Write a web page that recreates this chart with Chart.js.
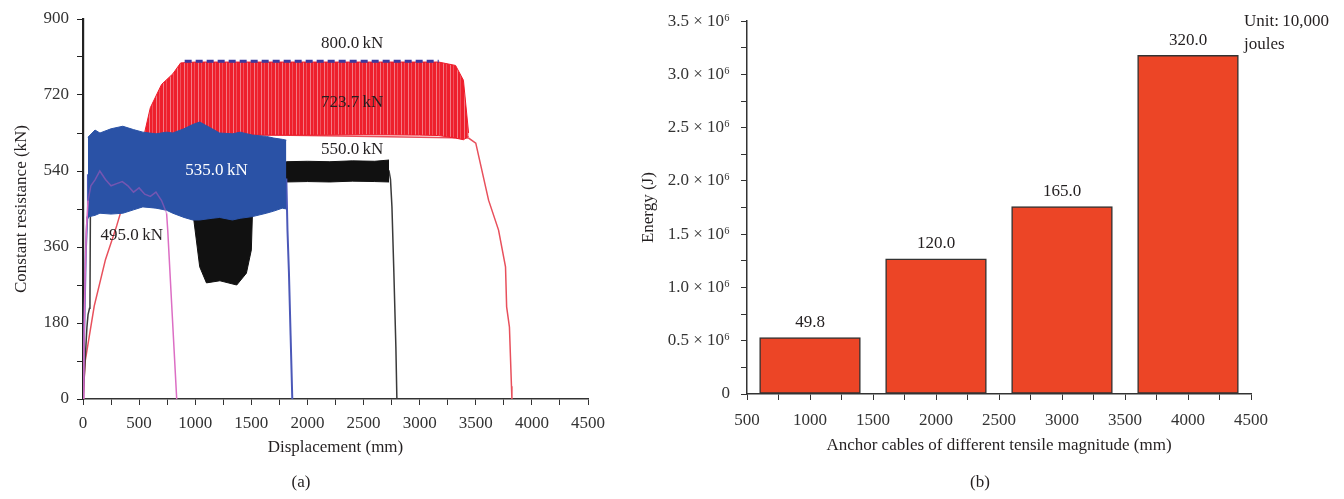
<!DOCTYPE html>
<html>
<head>
<meta charset="utf-8">
<script src="https://cdn.jsdelivr.net/npm/chart.js@4.4.0/dist/chart.umd.min.js"></script>
<style>
  body { margin: 0; background: #fff; }
  #wrap { position: relative; width: 1344px; height: 499px; }
  .box { position: absolute; top: 0; height: 499px; }
  #boxA { left: 0; width: 620px; }
  #boxB { left: 620px; width: 724px; }
</style>
</head>
<body>
<div id="wrap">
  <div class="box" id="boxA"><canvas id="chartA"></canvas></div>
  <div class="box" id="boxB"><canvas id="chartB"></canvas></div>
</div>
<script>
// ---- (a) resistance vs displacement ----
// red cable (800 kN): rise + fall trace, and the oscillating band between
let redLineX = [0, 20, 100, 200, 300, 400, 550, 3436, 3500, 3614, 3703, 3765, 3775, 3800, 3818, 3822];
let redLineY = [0, 90, 220, 330, 410, 500, 630, 618, 606, 471, 400, 313, 218, 170, 30, 0];
let redBandX = [550, 600, 700, 800, 870, 1000, 1500, 2000, 2500, 3000, 3170, 3320, 3390, 3436];
let redBandTop = [632, 690, 745, 770, 796, 798, 798, 798, 798, 798, 798, 790, 755, 630];
let redBandLow = [630, 626, 625, 625, 625, 625, 625, 625, 626, 625, 624, 618, 614, 622];

// black cable (550 kN)
let blackLineX = [0, 35, 45, 58, 62, 66, 1812, 2727, 2740, 2753, 2770, 2788, 2797];
let blackLineY = [0, 170, 200, 215, 225, 450, 540, 540, 520, 455, 300, 123, 0];
let blackBandX = [980, 1040, 1100, 1220, 1370, 1456, 1500, 1510, 1812, 2000, 2200, 2400, 2600, 2727];
let blackBandTop = [445, 450, 455, 455, 450, 450, 445, 520, 562, 563, 562, 564, 563, 566];
let blackBandLow = [440, 313, 275, 280, 270, 298, 353, 440, 514, 515, 514, 516, 515, 514];

// blue cable (535 kN)
let blueLineX = [0, 10, 25, 38, 44, 1812, 1822, 1835, 1850, 1865];
let blueLineY = [0, 150, 350, 430, 530, 520, 400, 300, 150, 0];
let blueBandX = [44, 107, 151, 250, 355, 450, 533, 650, 745, 800, 900, 977, 1040, 1150, 1217, 1332, 1400, 1510, 1634, 1700, 1776, 1812];
let blueBandTop = [620, 637, 630, 640, 646, 638, 632, 628, 632, 630, 640, 650, 656, 640, 630, 628, 632, 625, 622, 618, 615, 613];
let blueBandLow = [431, 435, 440, 438, 440, 448, 455, 452, 447, 440, 430, 424, 424, 428, 430, 424, 428, 432, 440, 445, 452, 450];

// pink cable (495 kN)
let pinkX = [0, 8, 18, 30, 45, 70, 107, 150, 200, 250, 300, 350, 400, 450, 500, 550, 600, 650, 700, 745, 755, 795, 835];
let pinkY = [0, 120, 280, 400, 470, 505, 519, 540, 520, 505, 510, 515, 505, 490, 500, 485, 480, 490, 470, 440, 400, 200, 0];

// design load line
let dashX = [906, 3170];
let dashY = [800, 800];

let noteText = ['800.0\u2009kN', '723.7\u2009kN', '550.0\u2009kN', '535.0\u2009kN', '495.0\u2009kN'];
let noteX = [2398, 2398, 2398, 1190, 435];
let noteY = [843, 701, 590, 542, 386];

// ---- (b) energy per cable ----
let barX = [1000, 2000, 3000, 4000];
let barEnergy = [530000, 1270000, 1760000, 3180000];
let barText = ['49.8', '120.0', '165.0', '320.0'];

const serif = '"Liberation Serif", "DejaVu Serif", serif';
const ink = '#231f20';
const pts = (xs, ys) => xs.map((x, i) => ({x: x, y: ys[i]}));

// streaky fill for the red oscillation band
function stripes(){
    let c = document.createElement('canvas');
    c.width = 7; c.height = 4;
    let g = c.getContext('2d');
    g.fillStyle = '#ee1f2c';
    g.fillRect(0, 0, 7, 4);
    g.fillStyle = '#f37a84';
    g.fillRect(2, 0, 1, 4);
    g.fillStyle = '#f0505c';
    g.fillRect(5, 0, 1, 4);
    return g.createPattern(c, 'repeat');
}

function line(xs, ys, color, width, order, extra){
    return Object.assign({
        data: pts(xs, ys), borderColor: color, borderWidth: width,
        pointRadius: 0, tension: 0, fill: false, order: order
    }, extra || {});
}

function axisX(min, max, pad, titleText, titlePad){
    return {
        type: 'linear', min: min, max: max, offset: false,
        ticks: {stepSize: 250, maxTicksLimit: 100, autoSkip: false, maxRotation: 0, padding: pad,
            color: '#333', font: {family: serif, size: 17},
            callback: v => v % 500 === 0 ? v : ''},
        grid: {drawOnChartArea: false, tickLength: 6, color: '#333', offset: false},
        border: {color: '#333', width: 1.5},
        title: {display: true, text: titleText, color: ink, font: {family: serif, size: 17},
            padding: {top: 0, bottom: titlePad}}
    };
}

// (a)
let chartA = new Chart(document.getElementById('chartA'), {
    type: 'line',
    data: {
        datasets: [
            line(redLineX, redLineY, '#e8505c', 1.5, 7),
            line(redBandX, redBandTop, '#ee1c2a', 1, 6),
            line(redBandX, redBandLow, '#ee1c2a', 1, 6, {fill: 1, backgroundColor: stripes()}),
            line(blackLineX, blackLineY, '#3a3a3a', 1.5, 5),
            line(blackBandX, blackBandTop, '#111', 1, 4),
            line(blackBandX, blackBandLow, '#111', 1, 4, {fill: 4, backgroundColor: '#111'}),
            line(blueLineX, blueLineY, '#4b58b8', 2, 3),
            line(blueBandX, blueBandTop, '#2a52a6', 1, 2),
            line(blueBandX, blueBandLow, '#2a52a6', 1, 2, {fill: 7, backgroundColor: '#2a52a6'}),
            line(pinkX, pinkY, '#dc6ec4', 1.5, 1, {segment: {
                borderColor: c => (c.p0.parsed.x >= 45 && c.p1.parsed.x <= 745) ? 'rgba(190,90,190,0.5)' : undefined
            }}),
            line(dashX, dashY, '#3b3b9e', 3, 0, {borderDash: [7, 4]})
        ]
    },
    options: {
        responsive: true, maintainAspectRatio: false, animation: false,
        layout: {padding: {top: 19, right: 32, left: 0, bottom: 0}},
        plugins: {legend: {display: false}, tooltip: {enabled: false}},
        scales: {
            x: Object.assign(axisX(0, 4500, 8, 'Displacement (mm)', 41), {afterFit: s => { s.height = 100; }}),
            y: {
                min: 0, max: 900,
                afterFit: s => { s.width = 83; },
                ticks: {stepSize: 90, maxTicksLimit: 100, padding: 8, color: '#333', font: {family: serif, size: 17},
                    callback: v => v % 180 === 0 ? v : ''},
                grid: {drawOnChartArea: false, tickLength: 6, color: '#222'},
                border: {color: '#222', width: 2.2},
                title: {display: true, text: 'Constant resistance (kN)', color: ink,
                    font: {family: serif, size: 17}, padding: {top: 11, bottom: 0}}
            }
        }
    },
    plugins: [{
        id: 'notes',
        afterDatasetsDraw(chart){
            let {ctx, scales: {x, y}} = chart;
            ctx.save();
            ctx.font = '17px ' + serif;
            ctx.textAlign = 'center';
            ctx.textBaseline = 'middle';
            noteText.forEach((t, i) => {
                ctx.fillStyle = i === 3 ? '#fff' : ink;
                ctx.fillText(t, x.getPixelForValue(noteX[i]), y.getPixelForValue(noteY[i]));
            });
            ctx.fillStyle = ink;
            ctx.fillText('(a)', chart.chartArea.left + 218, 483);
            ctx.restore();
        }
    }]
});

// (b)
let chartB = new Chart(document.getElementById('chartB'), {
    type: 'bar',
    data: {
        datasets: [{
            data: pts(barX, barEnergy),
            backgroundColor: '#ec4526',
            borderColor: '#333',
            borderWidth: 1.5,
            borderSkipped: false,
            barThickness: 'flex',   // width from the spacing of the bars themselves, not the ticks
            categoryPercentage: 1,
            barPercentage: 0.8
        }]
    },
    options: {
        responsive: true, maintainAspectRatio: false, animation: false,
        layout: {padding: {top: 15, right: 93, left: 0, bottom: 0}},
        plugins: {legend: {display: false}, tooltip: {enabled: false}},
        scales: {
            x: Object.assign(axisX(500, 4500, 10, 'Anchor cables of different tensile magnitude (mm)', 43), {afterFit: s => { s.height = 105; }}),
            y: {
                type: 'linear', min: 0, max: 3500000,
                afterFit: s => { s.width = 127; },
                ticks: {stepSize: 250000, maxTicksLimit: 100, padding: 11, color: '#333', font: {family: serif, size: 17},
                    callback: v => v === 0 ? '0' : (v % 500000 === 0 ? (v / 1e6).toFixed(1) + ' \u00d7 10\u2076' : '')},
                grid: {drawOnChartArea: false, tickLength: 6, color: '#333'},
                border: {color: '#333', width: 1.5},
                title: {display: true, text: 'Energy (J)', color: ink,
                    font: {family: serif, size: 17}, padding: {top: 18, bottom: 0}}
            }
        }
    },
    plugins: [{
        id: 'barText',
        afterDatasetsDraw(chart){
            let ctx = chart.ctx;
            ctx.save();
            ctx.font = '17px ' + serif;
            ctx.fillStyle = ink;
            ctx.textAlign = 'center';
            ctx.textBaseline = 'middle';
            chart.getDatasetMeta(0).data.forEach((bar, i) => ctx.fillText(barText[i], bar.x, bar.y - 15));
            ctx.textAlign = 'left';
            ctx.fillText('Unit:\u200910,000', chart.chartArea.right - 7, 22);
            ctx.fillText('joules', chart.chartArea.right - 7, 45);
            ctx.textAlign = 'center';
            ctx.fillText('(b)', chart.chartArea.left + 233, 483);
            ctx.restore();
        }
    }]
});
</script>
</body>
</html>
